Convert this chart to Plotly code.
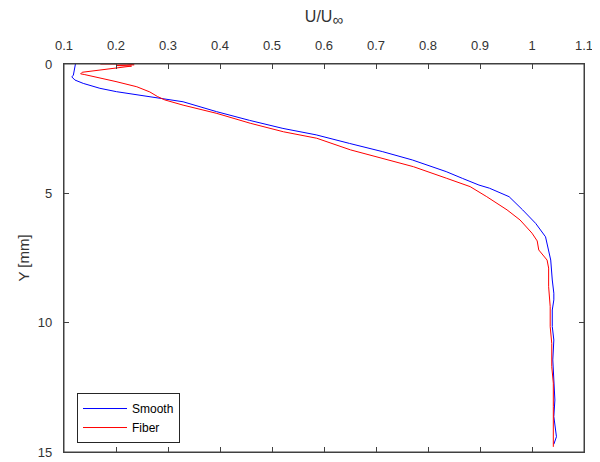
import plotly.graph_objects as go

# Smooth profile (U/U_inf vs Y [mm])
smooth_u = [0.122, 0.118, 0.115, 0.121, 0.137, 0.169, 0.201, 0.265, 0.284, 0.329, 0.393,
            0.457, 0.521, 0.585, 0.649, 0.713, 0.770, 0.835, 0.866, 0.898, 0.918, 0.956,
            0.982, 1.007, 1.026, 1.030, 1.036, 1.039, 1.042, 1.042, 1.039, 1.039, 1.042,
            1.040, 1.042, 1.044, 1.042, 1.047, 1.042]
smooth_y = [0.0, 0.43, 0.50, 0.62, 0.75, 0.94, 1.07, 1.26, 1.33, 1.46, 1.84,
            2.18, 2.49, 2.74, 3.07, 3.39, 3.71, 4.16, 4.42, 4.68, 4.80, 5.13,
            5.64, 6.16, 6.68, 7.00, 7.58, 8.35, 8.86, 9.12, 9.51, 10.15, 10.67,
            11.44, 12.09, 12.99, 13.63, 14.41, 14.70]

# Fiber profile
fiber_u = [0.170, 0.220, 0.235, 0.200, 0.230, 0.135, 0.132, 0.140, 0.200, 0.240, 0.265,
           0.280, 0.294, 0.329, 0.394, 0.458, 0.522, 0.586, 0.651, 0.715, 0.772, 0.836,
           0.881, 0.913, 0.952, 0.977, 1.000, 1.010, 1.013, 1.029, 1.032, 1.032, 1.035,
           1.035, 1.038, 1.038, 1.041, 1.041, 1.040, 1.041]
fiber_y = [0.0, 0.0, 0.03, 0.06, 0.08, 0.32, 0.38, 0.41, 0.68, 0.88, 1.08,
           1.26, 1.39, 1.59, 1.91, 2.29, 2.62, 2.87, 3.32, 3.65, 3.97, 4.42,
           4.74, 5.13, 5.64, 6.03, 6.54, 6.84, 7.19, 7.58, 7.89, 8.61, 9.38,
           10.15, 10.80, 11.70, 12.34, 13.25, 14.53, 14.80]

x_ticks = [0.1, 0.2, 0.3, 0.4, 0.5, 0.6, 0.7, 0.8, 0.9, 1.0, 1.1]
x_tick_text = ["0.1", "0.2", "0.3", "0.4", "0.5", "0.6", "0.7", "0.8", "0.9", "1", "1.1"]
y_ticks = [0, 5, 10, 15]

axis_col = "#333333"
line_col = "#404040"
font_fam = "Liberation Sans, Arial, sans-serif"

fig = go.Figure()
fig.add_trace(go.Scatter(x=smooth_u, y=smooth_y, mode="lines", name="Smooth",
                         line=dict(color="#0000ff", width=1)))
fig.add_trace(go.Scatter(x=fiber_u, y=fiber_y, mode="lines", name="Fiber",
                         line=dict(color="#ff0000", width=1)))

# plot frame (box around the axes)
fig.add_shape(type="rect", xref="paper", yref="paper", x0=0, y0=0, x1=1, y1=1,
              line=dict(color=line_col, width=1), layer="above")

fig.update_layout(
    width=592, height=454,
    margin=dict(l=56, r=16, t=56, b=10, autoexpand=False),
    paper_bgcolor="white", plot_bgcolor="white",
    font=dict(family=font_fam, color=axis_col, size=13),
    showlegend=True,
    legend=dict(x=0.025, y=0.152, xanchor="left", yanchor="top",
                bgcolor="white", bordercolor="#262626", borderwidth=1,
                font=dict(size=12, color="black"), tracegroupgap=0,
                itemwidth=44),
    xaxis=dict(side="top", range=[0.1, 1.1], tickvals=x_ticks, ticktext=x_tick_text,
               ticks="inside", ticklen=5, tickwidth=1.2, tickcolor=line_col, showline=True,
               linecolor=line_col, linewidth=1.2, mirror="ticks", showgrid=False,
               zeroline=False, tickfont=dict(size=13, color=axis_col),
               ticklabelstandoff=8, automargin=False,
               title=dict(text="U/U<sub><span style='font-size:15px'>∞</span></sub>",
                          font=dict(size=16, color=axis_col), standoff=12)),
    yaxis=dict(range=[15, 0], tickvals=y_ticks, ticks="inside", ticklen=5, tickwidth=1.2,
               tickcolor=line_col, showline=True, linecolor=line_col, linewidth=1.2,
               mirror="ticks", showgrid=False, zeroline=False,
               tickfont=dict(size=13, color=axis_col),
               ticklabelstandoff=8, automargin=False,
               title=dict(text="Y [mm]", font=dict(size=15, color=axis_col), standoff=4)),
)

fig.write_html("out.html")
